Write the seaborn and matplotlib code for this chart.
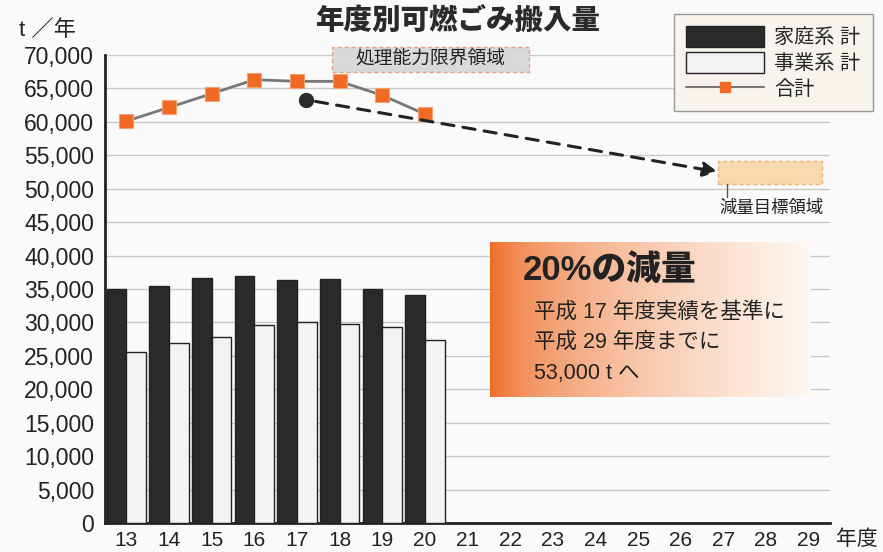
import numpy as np
import pandas as pd
import matplotlib
matplotlib.use("Agg")
import matplotlib.pyplot as plt
import seaborn as sns
from matplotlib.patches import Patch, Rectangle
from matplotlib.lines import Line2D

years = [str(y) for y in range(13, 30)]
data_years = [str(y) for y in range(13, 21)]
household = [35000, 35450, 36600, 37000, 36350, 36500, 35000, 34050]
business = [25550, 26900, 27850, 29550, 30050, 29750, 29250, 27350]
total = [60100, 62150, 64200, 66300, 66050, 66050, 63950, 61150]
yticks = list(range(0, 70001, 5000))
series_names = ["家庭系 計", "事業系 計", "合計"]

sns.set_style("white")
plt.rcParams["font.family"] = ["Liberation Sans", "Noto Sans CJK JP", "DejaVu Sans"]

df = pd.DataFrame({
    "年度": data_years * 2,
    "t": household + business,
    "区分": [series_names[0]] * len(household) + [series_names[1]] * len(business),
})

fig = plt.figure(figsize=(8.83, 5.52), dpi=100, facecolor="#fafafa")
ax = fig.add_axes([0.119, 0.0525, 0.821, 0.848])
ax.set_facecolor("#fafafa")

# gradient box behind the reduction text
grad = np.linspace(0, 1, 300) ** 0.55
c0 = np.array([0.93, 0.40, 0.12])
c1 = np.array([0.995, 0.975, 0.95])
img = (c0[None, :] * (1 - grad[:, None]) + c1[None, :] * grad[:, None])[None, :, :]
ax.imshow(img, extent=[8.53, 16.05, 18850, 41900], aspect="auto", zorder=2)

for v in yticks[1:]:
    ax.axhline(v, color="#c8c8c8", lw=1, zorder=1)

sns.barplot(data=df, x="年度", y="t", hue="区分", order=years,
            hue_order=series_names[:2], palette=["#2a2a2a", "#f3f3f3"],
            width=0.92, edgecolor="#222222", linewidth=1, legend=False,
            ax=ax, zorder=3)

sns.lineplot(x=list(range(len(total))), y=total, color="#777777", lw=2,
             marker="s", markersize=10, markerfacecolor="#f06a25",
             markeredgecolor="#f5a070", markeredgewidth=0.8, ax=ax, zorder=5)

# reduction arrow
ax.plot([4.21], [63300], "o", color="#2a2a2a", ms=10, zorder=6)
ax.annotate("", xy=(13.87, 52500), xytext=(4.21, 63300),
            arrowprops=dict(arrowstyle="-|>", color="#222222", lw=2.2,
                            linestyle=(0, (4, 3)), mutation_scale=22,
                            shrinkA=7, shrinkB=0), zorder=6)

# target area
ax.add_patch(Rectangle((13.87, 50700), 2.44, 3450, facecolor="#f9d9ae",
                       edgecolor="#f0b070", lw=1, ls=(0, (3, 2)), zorder=4))
ax.plot([14.08, 14.08], [48700, 50700], color="#555555", lw=1, zorder=4)
ax.text(15.13, 47150, "減量目標領域", fontsize=12.5, ha="center", va="center",
        color="#222222", zorder=6)

# processing capacity label
ax.add_patch(Rectangle((4.82, 67450), 4.62, 3750, facecolor="#d9d9d9",
                       edgecolor="#e8a080", lw=1, ls=(0, (3, 2)),
                       clip_on=False, zorder=4))
ax.text(7.13, 69300, "処理能力限界領域", fontsize=13.5, ha="center", va="center",
        color="#222222", zorder=6)

# reduction text
ax.text(9.3, 37700, "20%の減量", fontsize=25, fontweight="heavy",
        ha="left", va="center", color="#222222", zorder=6)
ax.text(9.55, 31600, "平成 17 年度実績を基準に", fontsize=15.5, ha="left",
        va="center", color="#222222", zorder=6)
ax.text(9.55, 27000, "平成 29 年度までに", fontsize=15.5, ha="left",
        va="center", color="#222222", zorder=6)
ax.text(9.55, 22300, "53,000 t へ", fontsize=15.5, ha="left",
        va="center", color="#222222", zorder=6)

ax.set_xlim(-0.5, len(years) - 0.5)
ax.set_ylim(0, 70000)
ax.set_yticks(yticks)
ax.set_yticklabels([f"{v:,}" for v in yticks], fontsize=16.5, color="#222222")
ax.set_xticks(range(len(years)))
ax.set_xticklabels(years, fontsize=15, color="#222222")
ax.set_xticks([i + 0.5 for i in range(len(years))], minor=True)
ax.tick_params(axis="y", direction="in", length=13, width=2, pad=8, color="#222222")
ax.tick_params(axis="x", which="major", length=0, pad=6)
ax.tick_params(axis="x", which="minor", direction="in", length=6, width=1.5, color="#222222")
ax.set_xlabel("")
ax.set_ylabel("")
for s in ["top", "right"]:
    ax.spines[s].set_visible(False)
for s in ["left", "bottom"]:
    ax.spines[s].set_color("#222222")
    ax.spines[s].set_linewidth(2)

handles = [Patch(facecolor="#2a2a2a", edgecolor="#222222"),
           Patch(facecolor="#f3f3f3", edgecolor="#222222"),
           Line2D([], [], color="#777777", lw=1.5, marker="s", ms=7,
                  markerfacecolor="#f06a25", markeredgecolor="#f06a25")]
leg = fig.legend(handles, series_names, loc="upper left",
                 bbox_to_anchor=(0.763, 0.975), fontsize=14.5,
                 handlelength=3.9, handleheight=1.2, labelspacing=0.25,
                 borderpad=0.6, handletextpad=0.5, borderaxespad=0,
                 fancybox=False, facecolor="#f6f4ec", edgecolor="#999999",
                 framealpha=1)

fig.text(0.518, 0.962, "年度別可燃ごみ搬入量", fontsize=20.5, fontweight="heavy",
         ha="center", va="center", color="#2a2a2a")
fig.text(0.022, 0.945, "t ／年", fontsize=16, ha="left", va="center", color="#222222")
fig.text(0.947, 0.024, "年度", fontsize=15, ha="left", va="center", color="#222222")

fig.savefig("out.png", dpi=100, facecolor=fig.get_facecolor())
